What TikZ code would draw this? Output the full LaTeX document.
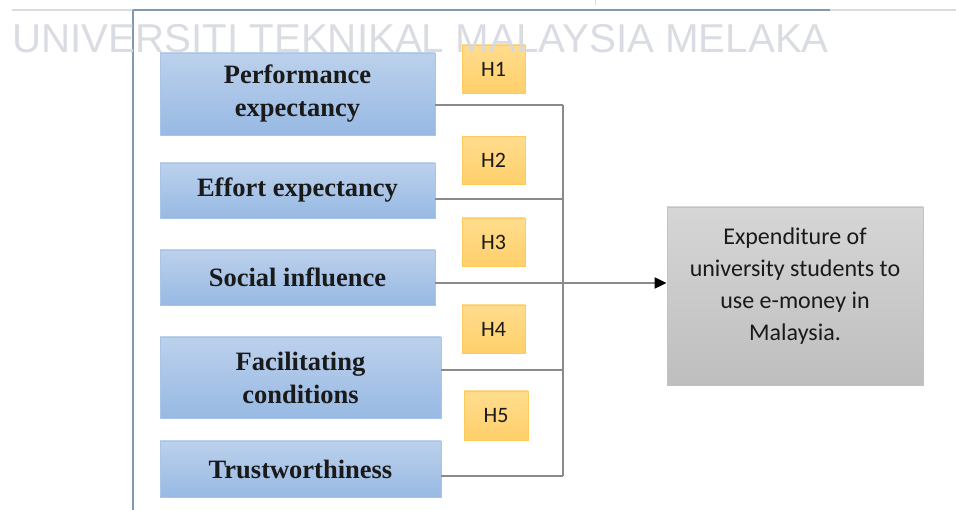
\documentclass[tikz,border=0pt]{standalone}
\usepackage{fontspec}
\setmainfont{Liberation Serif}
\newfontfamily\calib{Carlito}
\newfontfamily\arialf{Liberation Sans}
\usetikzlibrary{arrows.meta}
\definecolor{bluetop}{HTML}{BCD1EC}
\definecolor{bluebot}{HTML}{97B9E3}
\definecolor{bluebd}{HTML}{A9C4E6}
\definecolor{yeltop}{HTML}{FFDC8E}
\definecolor{yelbot}{HTML}{FFD06A}
\definecolor{yelbd}{HTML}{FCCB5A}
\definecolor{graytop}{HTML}{D6D6D6}
\definecolor{graybot}{HTML}{BEBEBE}
\definecolor{graybd}{HTML}{C2C2C2}
\definecolor{connc}{HTML}{8A8A8A}
\definecolor{framec}{HTML}{8498B3}
\definecolor{lightline}{HTML}{D9DBDF}
\definecolor{wmc}{HTML}{D6D9E0}
\definecolor{txt}{HTML}{1A1A1A}
\begin{document}
\begin{tikzpicture}[x=1pt,y=-1pt,
  factor/.style={draw=bluebd, line width=0.8pt, top color=bluetop, bottom color=bluebot,
    font=\fontsize{26.5}{33}\selectfont\bfseries, text=txt, align=center, inner sep=0pt,
    minimum width=275pt, minimum height=55pt},
  hyp/.style={draw=yelbd, line width=0.8pt, top color=yeltop, bottom color=yelbot,
    font=\calib\fontsize{22}{25}\selectfont, text=txt, inner sep=0pt,
    minimum width=63pt, minimum height=48pt},
  outbox/.style={draw=graybd, line width=0.8pt, top color=graytop, bottom color=graybot,
    inner sep=0pt, minimum width=256pt, minimum height=178pt},
  outtext/.style={font=\calib\fontsize{24}{32}\selectfont, text=txt, align=center, inner sep=0pt},
  conn/.style={draw=connc, line width=2pt},
  arr/.style={conn, -{Triangle[length=12pt,width=11pt,color=black]}},
  framel/.style={draw=framec, line width=1.6pt},
  wmark/.style={font=\arialf\fontsize{40.3}{40}\selectfont, text=wmc, inner sep=0pt, text opacity=0.9}
]
\useasboundingbox (0,0) rectangle (956,510);
\fill[white] (0,0) rectangle (956,510);

% page frame
\draw[draw=lightline, line width=1.6pt] (12,10) -- (956,10);
\draw[framel] (133,10) -- (830,10);
\draw[framel] (133,10) -- (133,510);
\draw[draw=lightline, line width=1pt] (595,0) -- (595,5);

% factors
\node[factor, minimum height=82pt] (b1) at (297.5,94) {Performance\\expectancy};
\node[factor] (b2) at (297.5,190.5) {Effort expectancy};
\node[factor] (b3) at (297.5,277.5) {Social influence};
\node[factor, minimum width=281pt, minimum height=81pt] (b4) at (300.5,377.5) {Facilitating\\conditions};
\node[factor, minimum width=281pt, minimum height=56pt] (b5) at (300.5,469) {Trustworthiness};

% hypotheses
\node[hyp] (h1) at (493.5,69) {H1};
\node[hyp] (h2) at (493.5,160.5) {H2};
\node[hyp] (h3) at (493.5,242) {H3};
\node[hyp] (h4) at (493.5,329) {H4};
\node[hyp, minimum width=64pt, minimum height=49pt] (h5) at (496,415.5) {H5};

% outcome
\node[outbox] (out) at (795,296) {};
\node[outtext] (outt) at (795,286) {Expenditure of\\university students to\\use e-money in\\Malaysia.};

% connectors
\coordinate (j1) at (563,105);
\coordinate (j2) at (563,199);
\coordinate (j3) at (563,283);
\coordinate (j4) at (563,370);
\coordinate (j5) at (563,476);
\draw[conn] (b1.east |- j1) -- (j1);
\draw[conn] (b2.east |- j2) -- (j2);
\draw[conn] (b4.east |- j4) -- (j4);
\draw[conn] (b5.east |- j5) -- (j5);
\draw[conn] (j1) -- (j5);
\draw[arr] (b3.east |- j3) -- (out.west |- j3);

% watermark
\node[wmark, anchor=base west] (wm) at (12,53) {UNIVERSITI TEKNIKAL MALAYSIA MELAKA};
\end{tikzpicture}
\end{document}
